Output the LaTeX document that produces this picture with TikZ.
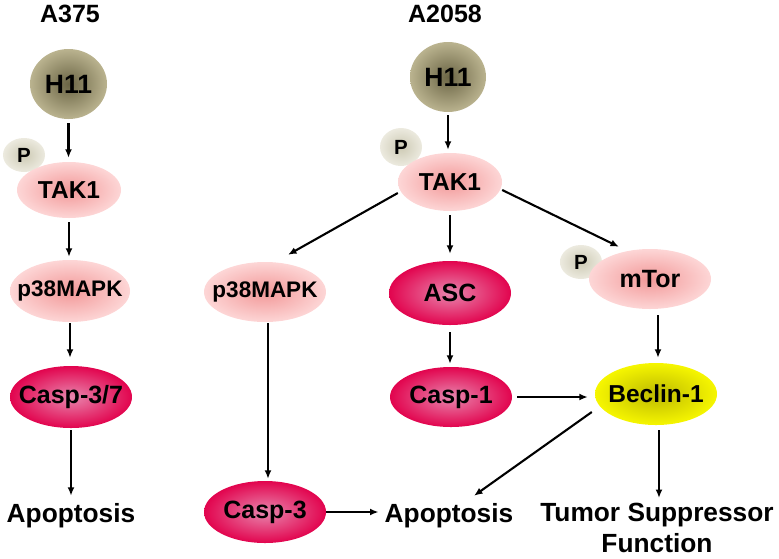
\documentclass[tikz,border=0pt]{standalone}
\usepackage{fontspec}
\setmainfont{Liberation Sans}
\usetikzlibrary{shapes.geometric,arrows.meta}
\definecolor{olvin}{HTML}{6B6545}
\definecolor{olvout}{HTML}{BAB38F}
\definecolor{phin}{HTML}{CDCAB4}
\definecolor{phout}{HTML}{ECEADF}
\definecolor{pkin}{HTML}{F29898}
\definecolor{pkout}{HTML}{FDD6D6}
\definecolor{crin}{HTML}{E886AE}
\definecolor{crout}{HTML}{E2044E}
\definecolor{ylin}{HTML}{BDBA00}
\definecolor{ylout}{HTML}{F6F600}
\newcommand\zt[1]{\makebox[0pt]{#1}}
\begin{document}
\begin{tikzpicture}[x=1pt,y=-1pt,
  blob/.style={ellipse,inner sep=0pt,font=\bfseries\fontsize{24.5}{26}\selectfont},
  olive/.style={blob,inner color=olvin,outer color=olvout},
  phos/.style={blob,inner color=phin,outer color=phout,font=\bfseries\fontsize{20.5}{22}\selectfont},
  pinkn/.style={blob,inner color=pkin,outer color=pkout},
  crim/.style={blob,inner color=crin,outer color=crout},
  yell/.style={blob,inner color=ylin,outer color=ylout},
  lbl/.style={inner sep=0pt,font=\bfseries\fontsize{25}{28}\selectfont},
  outc/.style={inner sep=0pt,font=\bfseries\fontsize{26.3}{30.5}\selectfont},
  arr/.style={-{Latex[length=8.5pt,width=7pt]},line width=2.1pt,black}]
\useasboundingbox (0,0) rectangle (779,558);

% ---------- A375 ----------
\node[lbl] (a375) at (70,14) {A375};
\node[olive,minimum width=77pt,minimum height=70pt,font=\bfseries\fontsize{26.5}{28}\selectfont] (H11L) at (68.5,84) {\zt{H11}};
\node[phos,minimum width=42pt,minimum height=34pt] (PL) at (24,155) {\zt{P}};
\node[pinkn,minimum width=104pt,minimum height=56pt] (TAK1L) at (69,190) {\zt{TAK1}};
\node[pinkn,minimum width=120pt,minimum height=62pt,font=\bfseries\fontsize{22.5}{24}\selectfont] (p38L) at (70,291) {\zt{p38MAPK}};
\node[crim,minimum width=122pt,minimum height=62pt,font=\bfseries\fontsize{25}{26}\selectfont] (casp37) at (71,397) {\zt{Casp-3/7}};
\node[outc,anchor=base] (apopL) at (71,522) {Apoptosis};

\draw[arr,shorten <=4pt,shorten >=4pt] (H11L.south) -- (H11L.south |- TAK1L.north);
\draw[arr,shorten <=4pt,shorten >=3pt] (TAK1L.south) -- (TAK1L.south |- p38L.north);
\draw[arr,shorten <=1pt,shorten >=8pt] (p38L.south) -- (p38L.south |- casp37.north);
\draw[arr,shorten <=2pt,shorten >=7pt] (casp37.south) -- (casp37.south |- apopL.north);

% ---------- A2058 ----------
\node[lbl] (a2058) at (445,14) {A2058};
\node[olive,minimum width=76pt,minimum height=70pt,font=\bfseries\fontsize{26.5}{28}\selectfont] (H11R) at (448,77) {\zt{H11}};
\node[phos,minimum width=42pt,minimum height=38pt] (PR) at (401,147) {\zt{P}};
\node[pinkn,minimum width=104pt,minimum height=58pt] (TAK1R) at (450,182) {\zt{TAK1}};
\node[pinkn,minimum width=122pt,minimum height=60pt,font=\bfseries\fontsize{22.5}{24}\selectfont] (p38R) at (265,292) {\zt{p38MAPK}};
\node[crim,minimum width=122pt,minimum height=64pt,font=\bfseries\fontsize{25}{26}\selectfont] (ASC) at (450,293) {\zt{ASC}};
\node[phos,minimum width=42pt,minimum height=34pt] (PM) at (581,262) {\zt{P}};
\node[pinkn,minimum width=122pt,minimum height=60pt,font=\bfseries\fontsize{25}{26}\selectfont] (mTor) at (650,279) {\zt{mTor}};
\node[crim,minimum width=122pt,minimum height=60pt,font=\bfseries\fontsize{25}{26}\selectfont] (casp1) at (451,397) {\zt{Casp-1}};
\node[yell,minimum width=122pt,minimum height=62pt,font=\bfseries\fontsize{24.5}{26}\selectfont] (beclin) at (656,394) {\zt{Beclin-1}};
\node[crim,minimum width=122pt,minimum height=62pt,font=\bfseries\fontsize{25}{26}\selectfont] (casp3) at (265,512) {\zt{Casp-3}};
\node[outc,anchor=base] (apopR) at (449,522) {Apoptosis};
\node[outc,anchor=north,align=center] (tumor) at (657,503) {Tumor Suppressor\\Function};

\draw[arr,shorten <=3pt,shorten >=3pt] (H11R.south) -- (H11R.south |- TAK1R.north);
\draw[arr] ([yshift=-11pt]TAK1R.west) -- ([xshift=23pt,yshift=7pt]p38R.north);
\draw[arr,shorten <=4pt,shorten >=7pt] (TAK1R.south) -- (TAK1R.south |- ASC.north);
\draw[arr] ([yshift=-8pt]TAK1R.east) -- ([xshift=-31pt,yshift=2pt]mTor.north);
\draw[arr,shorten <=7pt,shorten >=3pt] (ASC.south) -- (ASC.south |- casp1.north);
\draw[arr,shorten <=6pt,shorten >=5pt] ([xshift=2pt]beclin.north |- mTor.south) -- ([xshift=2pt]beclin.north);
\draw[arr,shorten <=5pt,shorten >=7pt] (casp1.east) -- (casp1.east -| beclin.west);
\draw[arr] ([xshift=-3pt,yshift=-18pt]beclin.west) -- ([xshift=25pt,yshift=7pt]apopR.north);
\draw[arr,shorten <=5pt,shorten >=5pt] ([xshift=3pt]beclin.south) -- ([xshift=3pt]beclin.south |- tumor.north);
\draw[arr,shorten <=1pt,shorten >=2pt] ([xshift=3pt]p38R.south) -- ([xshift=3pt]casp3.north);
\draw[arr,shorten <=0pt,shorten >=6pt] (casp3.east) -- (casp3.east -| apopR.west);
\end{tikzpicture}
\end{document}
